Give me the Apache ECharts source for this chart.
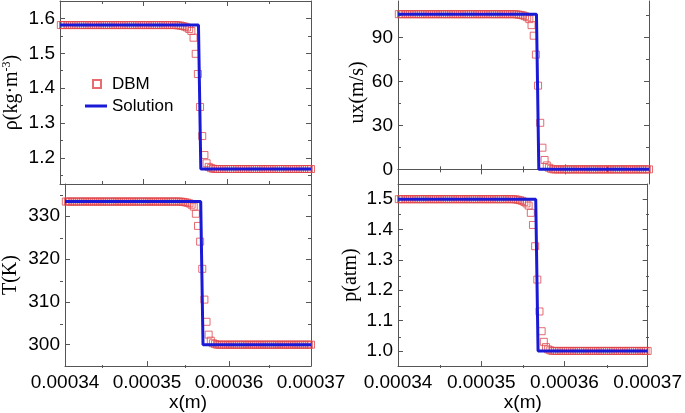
<!DOCTYPE html>
<html><head><meta charset="utf-8">
<script src="https://cdn.jsdelivr.net/npm/echarts@6/dist/echarts.min.js"></script>
<style>html,body{margin:0;padding:0;background:#fff}#c{width:685px;height:413px}</style>
</head><body><div id="c"></div>
<script>
// ---- DATA ----
// DBM sample positions (micrometres)
const dbmX_um = [
340.10,340.36,340.62,340.88,341.14,341.40,341.66,341.92,342.18,342.44,
342.70,342.96,343.22,343.48,343.74,344.00,344.26,344.52,344.78,345.04,
345.30,345.56,345.82,346.08,346.34,346.60,346.86,347.12,347.38,347.64,
347.90,348.16,348.42,348.68,348.94,349.20,349.46,349.72,349.98,350.24,
350.50,350.76,351.02,351.28,351.54,351.80,352.06,352.32,352.58,352.84,
353.10,353.36,353.62,353.88,354.14,354.40,354.66,354.92,355.18,355.44,
355.70,355.96,356.22,356.48,356.74,357.00,357.26,357.52,357.78,358.04,
358.30,358.56,358.82,359.08,359.34,359.60,359.86,360.12,360.38,360.64,
360.90,361.16,361.42,361.68,361.94,362.20,362.46,362.72,362.98,363.24,
363.50,363.76,364.02,364.28,364.54,364.80,365.06,365.32,365.58,365.84,
366.10,366.36,366.62,366.88,367.14,367.40,367.66,367.92,368.18,368.44,
368.70,368.96,369.22,369.48,369.74,370.00];

const rhoDBM = [
1.581,1.581,1.581,1.581,1.581,1.581,1.581,1.581,1.581,1.581,
1.581,1.581,1.581,1.581,1.581,1.581,1.581,1.581,1.581,1.581,
1.581,1.581,1.581,1.581,1.581,1.581,1.581,1.581,1.581,1.581,
1.581,1.581,1.581,1.581,1.581,1.581,1.581,1.581,1.581,1.581,
1.581,1.581,1.581,1.581,1.581,1.581,1.581,1.581,1.581,1.581,
1.581,1.581,1.581,1.581,1.580,1.5795,1.5781,1.5765,1.574,1.5698,
1.5641,1.5447,1.4984,1.4406,1.346,1.2626,1.2081,1.1845,1.1742,1.1705,
1.1688,1.168,1.168,1.168,1.168,1.168,1.168,1.168,1.168,1.168,
1.168,1.168,1.168,1.168,1.168,1.168,1.168,1.168,1.168,1.168,
1.168,1.168,1.168,1.168,1.168,1.168,1.168,1.168,1.168,1.168,
1.168,1.168,1.168,1.168,1.168,1.168,1.168,1.168,1.168,1.168,
1.168,1.168,1.168,1.168,1.168,1.168];

const uxDBM = [
106,106,106,106,106,106,106,106,106,106,
106,106,106,106,106,106,106,106,106,106,
106,106,106,106,106,106,106,106,106,106,
106,106,106,106,106,106,106,106,106,106,
106,106,106,106,106,106,106,106,106,106,
106,106,106,106,105.9,105.7,105.5,105.2,104.6,103.9,
102.6,98.5,91.3,78.4,57.2,31.8,14.8,6.4,2.7,1.1,
0.4,0,0,0,0,0,0,0,0,0,
0,0,0,0,0,0,0,0,0,0,
0,0,0,0,0,0,0,0,0,0,
0,0,0,0,0,0,0,0,0,0,
0,0,0,0,0,0];

const TDBM = [
333.4,333.4,333.4,333.4,333.4,333.4,333.4,333.4,333.4,333.4,
333.4,333.4,333.4,333.4,333.4,333.4,333.4,333.4,333.4,333.4,
333.4,333.4,333.4,333.4,333.4,333.4,333.4,333.4,333.4,333.4,
333.4,333.4,333.4,333.4,333.4,333.4,333.4,333.4,333.4,333.4,
333.4,333.4,333.4,333.4,333.4,333.4,333.4,333.4,333.4,333.4,
333.4,333.4,333.4,333.4,333.38,333.32,333.23,333.13,332.97,332.67,
332.23,330.56,327.72,324.05,317.70,310.52,305.34,302.34,300.94,300.33,
300.13,300,300,300,300,300,300,300,300,300,
300,300,300,300,300,300,300,300,300,300,
300,300,300,300,300,300,300,300,300,300,
300,300,300,300,300,300,300,300,300,300,
300,300,300,300,300,300];

const pDBM = [
1.5,1.5,1.5,1.5,1.5,1.5,1.5,1.5,1.5,1.5,
1.5,1.5,1.5,1.5,1.5,1.5,1.5,1.5,1.5,1.5,
1.5,1.5,1.5,1.5,1.5,1.5,1.5,1.5,1.5,1.5,
1.5,1.5,1.5,1.5,1.5,1.5,1.5,1.5,1.5,1.5,
1.5,1.5,1.5,1.5,1.5,1.5,1.5,1.5,1.5,1.5,
1.5,1.5,1.5,1.5,1.4993,1.498,1.4965,1.4945,1.491,1.486,
1.479,1.455,1.415,1.345,1.235,1.13,1.065,1.03,1.0125,1.005,
1.002,1.0,1.0,1.0,1.0,1.0,1.0,1.0,1.0,1.0,
1.0,1.0,1.0,1.0,1.0,1.0,1.0,1.0,1.0,1.0,
1.0,1.0,1.0,1.0,1.0,1.0,1.0,1.0,1.0,1.0,
1.0,1.0,1.0,1.0,1.0,1.0,1.0,1.0,1.0,1.0,
1.0,1.0,1.0,1.0,1.0,1.0];

// Exact solution (step), positions in micrometres
const solX_um = [340, 356.55, 356.83, 370];
const rhoSol = [1.581, 1.581, 1.168, 1.168];
const uxSol  = [106, 106, 0, 0];
const TSol   = [333.4, 333.4, 300, 300];
const pSol   = [1.5, 1.5, 1.0, 1.0];

// Tick values
const xTicks = [0.00034, 0.00035, 0.00036, 0.00037];
const xMinorTicks = [0.000345, 0.000355, 0.000365];
const rhoTicks = [1.2, 1.3, 1.4, 1.5, 1.6];
const rhoMinor = [1.15, 1.25, 1.35, 1.45, 1.55];
const uxTicks = [0, 30, 60, 90];
const uxMinor = [15, 45, 75, 105];
const TTicks = [300, 310, 320, 330];
const TMinor = [305, 315, 325, 335];
const pTicks = [1.0, 1.1, 1.2, 1.3, 1.4, 1.5];
const pMinor = [1.05, 1.15, 1.25, 1.35, 1.45];

// ---- CHART ----
const SANS = 'Arial, "Liberation Sans", sans-serif';
const SERIF = '"Times New Roman", "Liberation Serif", serif';
const AX = '#555';
const RED = '#e0474c';
const BLUE = '#1a1ad6';

const pts = (xs, ys) => xs.map((x, i) => [x * 1e-6, ys[i]]);

const panels = [
  {left:60, top:1, height:183, dbm:rhoDBM, sol:rhoSol, min:1.125, max:1.65, ticks:rhoTicks, minor:rhoMinor, dec:1,
   name:'{m|ρ(kg·m}{s|-3}{m|)}', nameGap:37, bottom:false},
  {left:398, top:1, height:183, dbm:uxDBM, sol:uxSol, min:-10, max:115, ticks:uxTicks, minor:uxMinor, dec:0,
   name:'{m|ux(m/s)}', nameGap:26, bottom:false},
  {left:60, top:184, height:184, dbm:TDBM, sol:TSol, min:295, max:337.5, ticks:TTicks, minor:TMinor, dec:0,
   name:'{m|T(K)}', nameGap:43, bottom:true},
  {left:398, top:184, height:184, dbm:pDBM, sol:pSol, min:0.95, max:1.55, ticks:pTicks, minor:pMinor, dec:1,
   name:'{m|p(atm)}', nameGap:36, bottom:true}
];

const grids = [], xAxes = [], yAxes = [], series = [];
const xMin = xTicks[0], xMax = xTicks[xTicks.length - 1];
const lineS = {color: AX, width: 1};

panels.forEach(p => {
  const gMain = grids.length;
  grids.push({left: p.left, top: p.top, width: 251, height: p.height});
  const gMinor = grids.length;
  grids.push({left: p.left, top: p.top, width: 251, height: p.height});

  const xb = xAxes.length;
  xAxes.push({gridIndex: gMain, type: 'value', position: 'bottom', min: xMin, max: xMax,
    axisLine: {show: true, lineStyle: lineS},
    axisTick: {show: true, inside: true, length: 5, customValues: xTicks, lineStyle: lineS},
    axisLabel: {show: p.bottom, customValues: xTicks, formatter: v => v.toFixed(5), margin: 7,
      fontSize: 19, fontFamily: SANS, color: '#000'},
    splitLine: {show: false},
    name: p.bottom ? 'x(m)' : '', nameLocation: 'middle', nameGap: 26,
    nameTextStyle: {fontSize: 19, fontFamily: SANS, color: '#000'}});
  xAxes.push({gridIndex: gMain, type: 'value', position: 'top', min: xMin, max: xMax,
    axisLine: {show: true, lineStyle: lineS},
    axisTick: {show: !p.bottom, inside: true, length: 5, customValues: xTicks, lineStyle: lineS},
    axisLabel: {show: false}, splitLine: {show: false}});
  xAxes.push({gridIndex: gMinor, type: 'value', position: 'bottom', min: xMin, max: xMax,
    axisLine: {show: false},
    axisTick: {show: true, inside: true, length: 3, customValues: xMinorTicks, lineStyle: lineS},
    axisLabel: {show: false}, splitLine: {show: false}});
  xAxes.push({gridIndex: gMinor, type: 'value', position: 'top', min: xMin, max: xMax,
    axisLine: {show: false},
    axisTick: {show: !p.bottom, inside: true, length: 3, customValues: xMinorTicks, lineStyle: lineS},
    axisLabel: {show: false}, splitLine: {show: false}});

  const yl = yAxes.length;
  yAxes.push({gridIndex: gMain, type: 'value', position: 'left', min: p.min, max: p.max,
    axisLine: {show: true, lineStyle: lineS},
    axisTick: {show: true, inside: true, length: 5, customValues: p.ticks, lineStyle: lineS},
    axisLabel: {show: true, customValues: p.ticks, formatter: v => v.toFixed(p.dec), margin: 5,
      fontSize: 19, fontFamily: SANS, color: '#000'},
    splitLine: {show: false},
    name: p.name, nameLocation: 'middle', nameGap: p.nameGap,
    nameTextStyle: {fontSize: 20, fontFamily: SERIF, color: '#000',
      rich: {m: {fontSize: 20, fontFamily: SERIF, color: '#000', lineHeight: 22},
             s: {fontSize: 12, fontFamily: SERIF, color: '#000', verticalAlign: 'top', lineHeight: 12}}}});
  yAxes.push({gridIndex: gMain, type: 'value', position: 'right', min: p.min, max: p.max,
    axisLine: {show: true, lineStyle: lineS},
    axisTick: {show: true, inside: true, length: 5, customValues: p.ticks, lineStyle: lineS},
    axisLabel: {show: false}, splitLine: {show: false}});
  yAxes.push({gridIndex: gMinor, type: 'value', position: 'left', min: p.min, max: p.max,
    axisLine: {show: false},
    axisTick: {show: true, inside: true, length: 3, customValues: p.minor, lineStyle: lineS},
    axisLabel: {show: false}, splitLine: {show: false}});
  yAxes.push({gridIndex: gMinor, type: 'value', position: 'right', min: p.min, max: p.max,
    axisLine: {show: false},
    axisTick: {show: true, inside: true, length: 3, customValues: p.minor, lineStyle: lineS},
    axisLabel: {show: false}, splitLine: {show: false}});

  series.push({name: 'DBM', type: 'scatter', xAxisIndex: xb, yAxisIndex: yl,
    data: pts(dbmX_um, p.dbm), symbol: 'rect', symbolSize: 7,
    itemStyle: {color: 'rgba(255,255,255,0)', borderColor: RED, borderWidth: 1},
    z: 2, silent: true});
  series.push({name: 'Solution', type: 'line', xAxisIndex: xb, yAxisIndex: yl,
    data: pts(solX_um, p.sol), symbol: 'none', showSymbol: false,
    lineStyle: {color: BLUE, width: 3}, itemStyle: {color: BLUE}, z: 3, silent: true});
});

const chart = echarts.init(document.getElementById('c'), null, {renderer: 'canvas'});
chart.setOption({
  animation: false,
  backgroundColor: '#fff',
  grid: grids,
  xAxis: xAxes,
  yAxis: yAxes,
  legend: [
    {data: ['DBM'], left: 92, top: 75.5, padding: 0, itemWidth: 8, itemHeight: 8, icon: 'rect',
     selectedMode: false, textStyle: {fontSize: 17, fontFamily: SANS, color: '#000', padding: [0, 0, 0, 6]}},
    {data: ['Solution'], left: 85, top: 97.5, padding: 0, itemWidth: 22, itemHeight: 3, icon: 'rect',
     selectedMode: false, textStyle: {fontSize: 17, fontFamily: SANS, color: '#000'}}
  ],
  series: series
});
</script></body></html>
